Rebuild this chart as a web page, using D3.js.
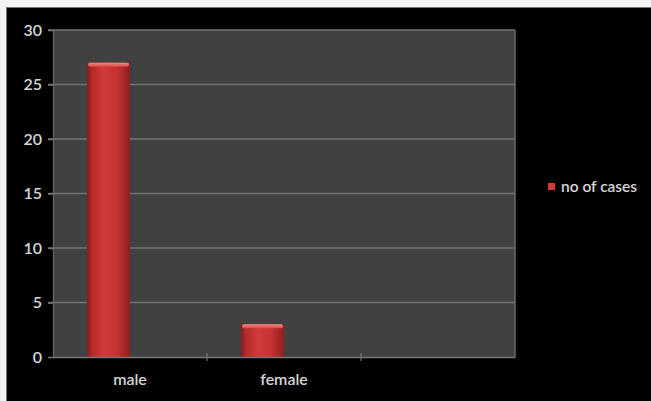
<!DOCTYPE html>
<html>
<head>
<meta charset="utf-8">
<script src="https://cdn.jsdelivr.net/npm/d3@7"></script>
<style>
  html, body { margin: 0; padding: 0; background: #000; }
  svg { display: block; }
</style>
</head>
<body>
<svg id="chart" width="651" height="401"></svg>
<script>
// Data
const categories = ["male", "female", ""];
const seriesNames = ["no of cases", ""];       // second slot is an empty series
const cases = [27, 3, null];
const yTicks = [0, 5, 10, 15, 20, 25, 30];

const W = 651, H = 401;
const plot = { left: 53, right: 515, top: 30, bottom: 357 };
const font = "Lato, 'Open Sans', 'DejaVu Sans', sans-serif";

const svg = d3.select("#chart");

// Frame: light border along top and left, black body
svg.append("rect").attr("x", 0).attr("y", 0).attr("width", W).attr("height", H).attr("fill", "#f2f2f2");
svg.append("rect").attr("x", 6).attr("y", 7).attr("width", W - 6).attr("height", H - 7).attr("fill", "#000");
svg.append("line").attr("x1", 6).attr("x2", W).attr("y1", 7.5).attr("y2", 7.5).attr("stroke", "#777").attr("stroke-width", 1);
svg.append("line").attr("x1", 6.5).attr("x2", 6.5).attr("y1", 7).attr("y2", H).attr("stroke", "#777").attr("stroke-width", 1);

// Scales
const x = d3.scaleBand().domain(categories.map((d, i) => i)).range([plot.left, plot.right]).paddingInner(0).paddingOuter(0);
const xs = d3.scaleBand().domain(seriesNames.map((d, i) => i)).range([0, x.bandwidth()]).paddingOuter(0.79).paddingInner(0);
const y = d3.scaleLinear().domain([0, 30]).range([plot.bottom, plot.top]);

// Plot background
svg.append("rect")
  .attr("x", plot.left).attr("y", plot.top)
  .attr("width", plot.right - plot.left).attr("height", plot.bottom - plot.top)
  .attr("fill", "#414141");

// Gridlines
svg.append("g").selectAll("line").data(yTicks.filter(t => t > 0)).join("line")
  .attr("x1", plot.left - 5).attr("x2", plot.right)
  .attr("y1", d => y(d)).attr("y2", d => y(d))
  .attr("stroke", "#737373").attr("stroke-width", 1.6);

// Right edge of plot area
svg.append("line").attr("x1", plot.right).attr("x2", plot.right).attr("y1", plot.top).attr("y2", plot.bottom)
  .attr("stroke", "#6a6a6a").attr("stroke-width", 1.5);

// Gradients for the bars
const defs = svg.append("defs");
const g = defs.append("linearGradient").attr("id", "barGrad").attr("x1", "0").attr("x2", "1").attr("y1", "0").attr("y2", "0");
[["0%", "#8a1b1b"], ["12%", "#b52a2a"], ["40%", "#d23a38"], ["70%", "#c53231"], ["100%", "#8f1e1e"]]
  .forEach(([o, c]) => g.append("stop").attr("offset", o).attr("stop-color", c));
const cap = defs.append("linearGradient").attr("id", "capGrad").attr("x1", "0").attr("x2", "0").attr("y1", "0").attr("y2", "1");
[["0%", "#f08a82"], ["100%", "#d84a45"]].forEach(([o, c]) => cap.append("stop").attr("offset", o).attr("stop-color", c));

const barData = cases.map((v, i) => ({ i, v })).filter(d => d.v != null);
const bars = svg.append("g");
bars.selectAll("rect.bar").data(barData).join("rect")
  .attr("class", "bar")
  .attr("x", d => x(d.i) + xs(0))
  .attr("y", d => y(d.v))
  .attr("width", xs.bandwidth())
  .attr("height", d => y(0) - y(d.v))
  .attr("fill", "url(#barGrad)");
bars.selectAll("rect.cap").data(barData).join("rect")
  .attr("class", "cap")
  .attr("x", d => x(d.i) + xs(0) + 1)
  .attr("y", d => y(d.v))
  .attr("width", xs.bandwidth() - 2)
  .attr("height", 4)
  .attr("rx", 2)
  .attr("fill", "url(#capGrad)");

// Y axis
const yAxis = d3.axisLeft(y).tickValues(yTicks).tickSize(5).tickPadding(6).tickFormat(d3.format("d"));
const ya = svg.append("g").attr("transform", `translate(${plot.left},0)`).call(yAxis);
ya.select(".domain").attr("stroke", "#6a6a6a").attr("stroke-width", 1.2);
ya.selectAll(".tick line").attr("stroke", "#737373").attr("stroke-width", 1.6);
ya.selectAll(".tick text").attr("fill", "#d6d6d6").attr("font-family", font).attr("font-size", 16).attr("font-weight", 600);

// X axis
const xa = svg.append("g").attr("transform", `translate(0,${plot.bottom})`)
  .call(d3.axisBottom(x).tickFormat(i => categories[i]).tickSize(0).tickPadding(17));
xa.select(".domain").attr("stroke", "#777").attr("stroke-width", 1.6);
xa.selectAll(".tick text").attr("fill", "#d6d6d6").attr("font-family", font).attr("font-size", 16).attr("font-weight", 600);
// category boundary ticks
svg.append("g").selectAll("line").data(categories.slice(1).map((d, i) => i + 1)).join("line")
  .attr("x1", d => x(d)).attr("x2", d => x(d))
  .attr("y1", plot.bottom - 4).attr("y2", plot.bottom + 4)
  .attr("stroke", "#777").attr("stroke-width", 1.2);

// Legend
const lg = svg.append("g").attr("transform", "translate(548,183)");
lg.append("rect").attr("width", 7).attr("height", 7).attr("fill", "#d23a3a");
lg.append("text").attr("x", 13).attr("y", 3.5).attr("dy", "0.35em")
  .attr("fill", "#d6d6d6").attr("font-family", font).attr("font-size", 15.5).attr("font-weight", 600)
  .text(seriesNames[0]);
</script>
</body>
</html>
